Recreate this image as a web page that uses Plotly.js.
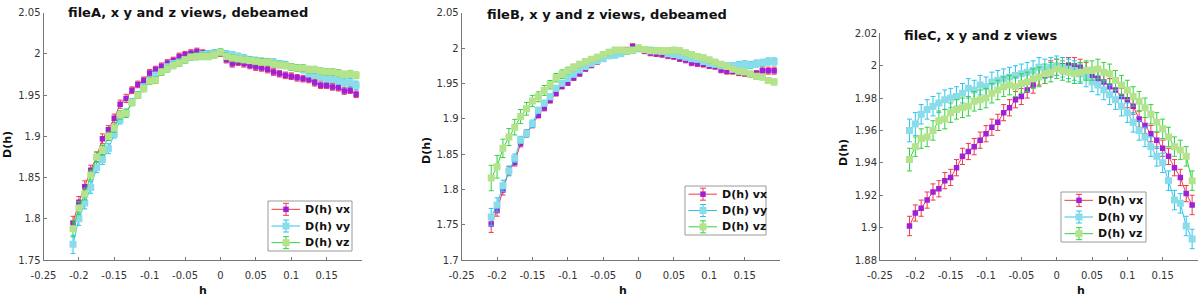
<!DOCTYPE html>
<html>
<head>
<meta charset="utf-8">
<script src="https://cdn.plot.ly/plotly-3.0.1.min.js"></script>
<style>html,body{margin:0;padding:0;background:#fff;}#chart{width:1200px;height:296px;}</style>
</head>
<body>
<div id="chart"></div>
<script>
// ---- data ----
const h = [-0.2083,-0.2,-0.1917,-0.1833,-0.175,-0.1667,-0.1583,-0.15,-0.1417,-0.1333,-0.125,-0.1167,-0.1083,-0.1,-0.0917,-0.0833,-0.075,-0.0667,-0.0583,-0.05,-0.0417,-0.0333,-0.025,-0.0167,-0.0083,0,0.0083,0.0167,0.025,0.0333,0.0417,0.05,0.0583,0.0667,0.075,0.0833,0.0917,0.1,0.1083,0.1167,0.125,0.1333,0.1417,0.15,0.1583,0.1667,0.175,0.1833,0.1917];

const seriesNames = ['D(h) vx','D(h) vy','D(h) vz'];
const panelTitles = ['fileA, x y and z views, debeamed','fileB, x y and z views, debeamed','fileC, x y and z views'];

const xTickVals = [-0.25,-0.2,-0.15,-0.1,-0.05,0,0.05,0.1,0.15];
const xTickText = ['-0.25','-0.2','-0.15','-0.1','-0.05','0','0.05','0.1','0.15'];
const yTickValsA = [1.75,1.8,1.85,1.9,1.95,2,2.05];
const yTickTextA = ['1.75','1.8','1.85','1.9','1.95','2','2.05'];
const yTickValsB = [1.7,1.75,1.8,1.85,1.9,1.95,2,2.05];
const yTickTextB = ['1.7','1.75','1.8','1.85','1.9','1.95','2','2.05'];
const yTickValsC = [1.88,1.9,1.92,1.94,1.96,1.98,2,2.02];
const yTickTextC = ['1.88','1.9','1.92','1.94','1.96','1.98','2','2.02'];

// panel A (fileA)
const aVx = [1.795,1.820,1.839,1.859,1.875,1.897,1.908,1.922,1.939,1.946,1.956,1.963,1.968,1.977,1.981,1.985,1.989,1.992,1.997,1.999,2.001,2.003,2.001,2.000,2.001,2.001,1.993,1.988,1.990,1.988,1.986,1.984,1.983,1.981,1.978,1.976,1.974,1.973,1.971,1.970,1.969,1.965,1.962,1.962,1.960,1.959,1.955,1.956,1.951];
const aVy = [1.769,1.800,1.819,1.838,1.862,1.872,1.885,1.903,1.920,1.928,1.942,1.950,1.960,1.968,1.974,1.978,1.984,1.988,1.990,1.993,1.996,1.997,1.999,2.000,2.001,2.002,2.000,1.999,1.997,1.995,1.993,1.992,1.991,1.990,1.990,1.988,1.987,1.984,1.983,1.981,1.976,1.974,1.972,1.970,1.969,1.967,1.966,1.965,1.962];
const aVz = [1.788,1.813,1.830,1.853,1.875,1.883,1.900,1.910,1.926,1.928,1.941,1.950,1.958,1.967,1.968,1.978,1.982,1.986,1.989,1.993,1.996,1.997,1.997,1.997,1.999,2.002,1.997,1.995,1.994,1.993,1.992,1.991,1.990,1.990,1.988,1.987,1.986,1.984,1.983,1.983,1.981,1.981,1.979,1.978,1.978,1.977,1.975,1.976,1.974];
const aEx = [0.008,0.007,0.007,0.006,0.006,0.006,0.005,0.005,0.005,0.005,0.004,0.004,0.004,0.004,0.004,0.004,0.004,0.004,0.004,0.004,0.004,0.004,0.004,0.004,0.004,0.004,0.004,0.004,0.004,0.004,0.004,0.004,0.004,0.004,0.004,0.004,0.004,0.004,0.004,0.004,0.004,0.004,0.004,0.004,0.004,0.004,0.004,0.004,0.004];
const aEy = [0.011,0.008,0.007,0.007,0.006,0.006,0.006,0.005,0.005,0.005,0.004,0.004,0.004,0.004,0.004,0.004,0.004,0.004,0.004,0.004,0.004,0.004,0.004,0.004,0.004,0.004,0.004,0.004,0.004,0.004,0.004,0.004,0.004,0.004,0.004,0.004,0.004,0.004,0.004,0.004,0.004,0.004,0.004,0.004,0.004,0.004,0.005,0.005,0.005];
const aEz = [0.010,0.008,0.007,0.006,0.006,0.006,0.005,0.005,0.005,0.005,0.004,0.004,0.004,0.004,0.004,0.004,0.004,0.004,0.004,0.004,0.004,0.004,0.004,0.004,0.004,0.004,0.004,0.004,0.004,0.004,0.004,0.004,0.004,0.004,0.004,0.004,0.004,0.004,0.004,0.004,0.004,0.004,0.004,0.004,0.004,0.004,0.004,0.004,0.004];

// panel B (fileB)
const bVx = [1.751,1.770,1.799,1.826,1.838,1.865,1.879,1.891,1.905,1.915,1.926,1.936,1.946,1.951,1.958,1.964,1.971,1.976,1.981,1.985,1.990,1.992,1.993,1.997,2.002,1.999,1.996,1.993,1.992,1.991,1.989,1.988,1.985,1.983,1.979,1.978,1.977,1.975,1.974,1.969,1.967,1.967,1.965,1.964,1.963,1.964,1.968,1.968,1.968];
const bVy = [1.761,1.778,1.805,1.826,1.844,1.870,1.879,1.893,1.912,1.922,1.931,1.943,1.950,1.957,1.963,1.969,1.974,1.978,1.982,1.985,1.989,1.990,1.992,1.995,1.997,1.999,1.998,1.997,1.996,1.995,1.992,1.991,1.989,1.987,1.985,1.984,1.981,1.978,1.977,1.975,1.975,1.974,1.976,1.977,1.976,1.978,1.979,1.981,1.981];
const bVz = [1.816,1.832,1.858,1.874,1.888,1.903,1.914,1.925,1.931,1.940,1.948,1.958,1.963,1.968,1.973,1.977,1.981,1.984,1.987,1.991,1.994,1.997,1.997,1.996,1.997,2.000,1.998,1.996,1.996,1.996,1.996,1.997,1.996,1.993,1.991,1.988,1.986,1.983,1.980,1.977,1.974,1.970,1.967,1.966,1.963,1.960,1.959,1.954,1.952];
const bEx = [0.012,0.008,0.007,0.006,0.005,0.005,0.005,0.004,0.004,0.004,0.004,0.004,0.004,0.004,0.004,0.004,0.004,0.004,0.004,0.004,0.004,0.004,0.004,0.004,0.004,0.004,0.004,0.004,0.004,0.004,0.004,0.004,0.004,0.004,0.004,0.004,0.004,0.004,0.004,0.004,0.004,0.004,0.004,0.004,0.004,0.004,0.005,0.005,0.005];
const bEy = [0.012,0.010,0.008,0.007,0.006,0.005,0.005,0.005,0.004,0.004,0.004,0.004,0.004,0.004,0.004,0.004,0.004,0.004,0.004,0.004,0.004,0.004,0.004,0.004,0.004,0.004,0.004,0.004,0.004,0.004,0.004,0.004,0.004,0.004,0.004,0.004,0.004,0.004,0.004,0.004,0.004,0.005,0.005,0.005,0.005,0.005,0.005,0.005,0.005];
const bEz = [0.018,0.016,0.013,0.012,0.011,0.010,0.009,0.008,0.007,0.007,0.006,0.006,0.006,0.005,0.004,0.004,0.004,0.004,0.004,0.004,0.004,0.004,0.004,0.004,0.004,0.004,0.004,0.004,0.004,0.004,0.004,0.004,0.004,0.004,0.004,0.004,0.004,0.004,0.004,0.004,0.004,0.004,0.004,0.004,0.004,0.004,0.004,0.004,0.004];

// panel C (fileC)
const cVx = [1.901,1.909,1.912,1.917,1.922,1.924,1.929,1.931,1.937,1.944,1.947,1.950,1.954,1.958,1.962,1.965,1.971,1.974,1.979,1.981,1.985,1.988,1.993,1.994,1.998,1.999,2.000,2.000,2.000,1.999,1.997,1.994,1.992,1.990,1.987,1.985,1.981,1.979,1.975,1.967,1.963,1.958,1.954,1.949,1.944,1.937,1.931,1.921,1.914];
const cVy = [1.960,1.964,1.970,1.973,1.975,1.977,1.979,1.980,1.981,1.983,1.986,1.985,1.988,1.987,1.990,1.991,1.992,1.993,1.994,1.995,1.996,1.997,1.999,1.998,1.999,2.000,1.999,1.998,1.997,1.995,1.993,1.990,1.988,1.985,1.982,1.979,1.975,1.971,1.965,1.960,1.956,1.950,1.944,1.940,1.929,1.917,1.915,1.901,1.893];
const cVz = [1.942,1.950,1.955,1.956,1.960,1.966,1.967,1.971,1.973,1.974,1.975,1.978,1.979,1.980,1.983,1.985,1.987,1.988,1.987,1.989,1.990,1.992,1.993,1.995,1.996,1.998,1.997,1.996,1.995,1.996,1.997,1.997,1.998,1.996,1.995,1.991,1.988,1.985,1.981,1.978,1.974,1.970,1.965,1.961,1.956,1.950,1.948,1.944,1.929];
const cEx = [0.006,0.005,0.005,0.005,0.005,0.005,0.005,0.005,0.005,0.005,0.005,0.005,0.005,0.005,0.005,0.005,0.005,0.005,0.005,0.005,0.005,0.005,0.005,0.005,0.005,0.005,0.005,0.005,0.005,0.005,0.005,0.005,0.005,0.005,0.005,0.005,0.005,0.005,0.005,0.005,0.005,0.005,0.005,0.005,0.005,0.005,0.005,0.005,0.006];
const cEy = [0.007,0.007,0.006,0.006,0.006,0.006,0.006,0.006,0.006,0.006,0.006,0.006,0.006,0.006,0.006,0.006,0.006,0.006,0.006,0.006,0.006,0.006,0.006,0.006,0.006,0.006,0.006,0.006,0.006,0.006,0.006,0.006,0.006,0.006,0.006,0.006,0.006,0.006,0.006,0.006,0.006,0.006,0.006,0.006,0.006,0.006,0.006,0.006,0.006];
const cEz = [0.007,0.006,0.006,0.006,0.006,0.006,0.006,0.006,0.006,0.006,0.006,0.006,0.006,0.006,0.006,0.006,0.006,0.006,0.006,0.006,0.006,0.006,0.006,0.006,0.006,0.006,0.006,0.006,0.006,0.006,0.006,0.006,0.006,0.006,0.006,0.006,0.006,0.006,0.006,0.006,0.006,0.006,0.006,0.006,0.006,0.006,0.006,0.006,0.006];

// ---- styles ----
const lineColors = ['#f0394a', '#2cc4f2', '#2fd33f'];
const markerColors = ['#a11fd6', '#8adde8', '#b4e38c'];
const markerSizes = [5.5, 7, 7];
const FONT = 'DejaVu Sans, Verdana, sans-serif';

const panels = [
  {vals:[aVx,aVy,aVz], errs:[aEx,aEy,aEz], xa:'x', ya:'y'},
  {vals:[bVx,bVy,bVz], errs:[bEx,bEy,bEz], xa:'x2', ya:'y2'},
  {vals:[cVx,cVy,cVz], errs:[cEx,cEy,cEz], xa:'x3', ya:'y3'}
];

const traces = [];
panels.forEach(p => {
  for (let s = 0; s < 3; s++) {
    traces.push({
      type: 'scatter', mode: 'lines+markers',
      x: h, y: p.vals[s], name: seriesNames[s], showlegend: false,
      xaxis: p.xa, yaxis: p.ya,
      line: {color: lineColors[s], width: 1},
      marker: {symbol: 'square', size: markerSizes[s], color: markerColors[s], line: {width: 0}},
      error_y: {type: 'data', array: p.errs[s], visible: true, color: lineColors[s], thickness: 1, width: 2.5}
    });
  }
});

function xax(domain) {
  return {domain: domain, range: [-0.25, 0.2], tickmode: 'array', tickvals: xTickVals, ticktext: xTickText,
    ticks: 'inside', ticklen: 3, tickcolor: '#777', showline: true, linecolor: '#777', linewidth: 1,
    showgrid: false, zeroline: false, ticklabelstandoff: 6,
    tickfont: {family: FONT, size: 10, color: '#333'}, fixedrange: true};
}
function yax(domain, range, tv, tt, anchor) {
  return {domain: domain, range: range, tickmode: 'array', tickvals: tv, ticktext: tt, anchor: anchor,
    ticks: 'inside', ticklen: 3, tickcolor: '#777', showline: true, linecolor: '#777', linewidth: 1,
    showgrid: false, zeroline: false, tickfont: {family: FONT, size: 10, color: '#333'}, fixedrange: true};
}
const W = 1200, H = 296;
const px = v => v / W, py = v => (H - v) / H;

const annotations = [];
const shapes = [];
const titleSpots = [[66, 12], [485, 15], [902, 36]];
titleSpots.forEach((t, i) => annotations.push({text: panelTitles[i], xref: 'paper', yref: 'paper', x: px(t[0]), y: py(t[1]),
  xanchor: 'left', yanchor: 'middle', showarrow: false, font: {family: FONT, size: 13, color: '#111', weight: 'bold'}}));
const ylabSpots = [[7, 145], [426, 151], [843, 153]];
ylabSpots.forEach(t => annotations.push({text: 'D(h)', xref: 'paper', yref: 'paper', x: px(t[0]), y: py(t[1]), textangle: -90,
  xanchor: 'center', yanchor: 'middle', showarrow: false, font: {family: FONT, size: 11, color: '#111', weight: 'bold'}}));
const xlabSpots = [[203, 290], [623, 290], [1081, 290]];
xlabSpots.forEach(t => annotations.push({text: 'h', xref: 'paper', yref: 'paper', x: px(t[0]), y: py(t[1]),
  xanchor: 'center', yanchor: 'middle', showarrow: false, font: {family: FONT, size: 11, color: '#111', weight: 'bold'}}));

// legend boxes (MATLAB-style, with error-bar glyphs), one per panel
const legendBoxes = [[268, 201, 352, 251], [685, 186, 766, 235], [1061, 192, 1146, 242]];
legendBoxes.forEach(b => {
  const [x0, y0, x1, y1] = b;
  const P = {xref: 'paper', yref: 'paper', layer: 'above'};
  shapes.push(Object.assign({type: 'rect', x0: px(x0), x1: px(x1), y0: py(y0), y1: py(y1),
    fillcolor: '#ffffff', line: {color: '#9a9a9a', width: 1}}, P));
  const step = (y1 - y0) / 3;
  for (let s = 0; s < 3; s++) {
    const yc = y0 + step * (s + 0.5);
    const xm = x0 + 18;
    const c = lineColors[s];
    shapes.push(Object.assign({type: 'line', x0: px(x0 + 3.5), x1: px(x0 + 32), y0: py(yc), y1: py(yc), line: {color: c, width: 1}}, P));
    shapes.push(Object.assign({type: 'line', x0: px(xm), x1: px(xm), y0: py(yc - 6), y1: py(yc + 6), line: {color: c, width: 1}}, P));
    shapes.push(Object.assign({type: 'line', x0: px(xm - 3), x1: px(xm + 3), y0: py(yc - 6), y1: py(yc - 6), line: {color: c, width: 1}}, P));
    shapes.push(Object.assign({type: 'line', x0: px(xm - 3), x1: px(xm + 3), y0: py(yc + 6), y1: py(yc + 6), line: {color: c, width: 1}}, P));
    const m = markerSizes[s] / 2;
    shapes.push(Object.assign({type: 'rect', x0: px(xm - m), x1: px(xm + m), y0: py(yc - m), y1: py(yc + m),
      fillcolor: markerColors[s], line: {width: 0}}, P));
    annotations.push({text: seriesNames[s], xref: 'paper', yref: 'paper', x: px(x0 + 35), y: py(yc),
      xanchor: 'left', yanchor: 'middle', showarrow: false, font: {family: FONT, size: 11, color: '#111', weight: 'bold'}});
  }
});

const layout = {
  width: W, height: H, margin: {l: 0, r: 0, t: 0, b: 0},
  paper_bgcolor: '#ffffff', plot_bgcolor: '#ffffff', showlegend: false,
  xaxis: Object.assign(xax([px(43.5), px(362)]), {anchor: 'y'}),
  xaxis2: Object.assign(xax([px(461.7), px(780)]), {anchor: 'y2'}),
  xaxis3: Object.assign(xax([px(880), px(1198)]), {anchor: 'y3'}),
  yaxis: yax([py(260), py(12.7)], [1.75, 2.05], yTickValsA, yTickTextA, 'x'),
  yaxis2: yax([py(260), py(12.7)], [1.7, 2.05], yTickValsB, yTickTextB, 'x2'),
  yaxis3: yax([py(260), py(33.3)], [1.88, 2.02], yTickValsC, yTickTextC, 'x3'),
  shapes: shapes,
  annotations: annotations
};

Plotly.newPlot('chart', traces, layout, {staticPlot: true, displayModeBar: false});
</script>
</body>
</html>
